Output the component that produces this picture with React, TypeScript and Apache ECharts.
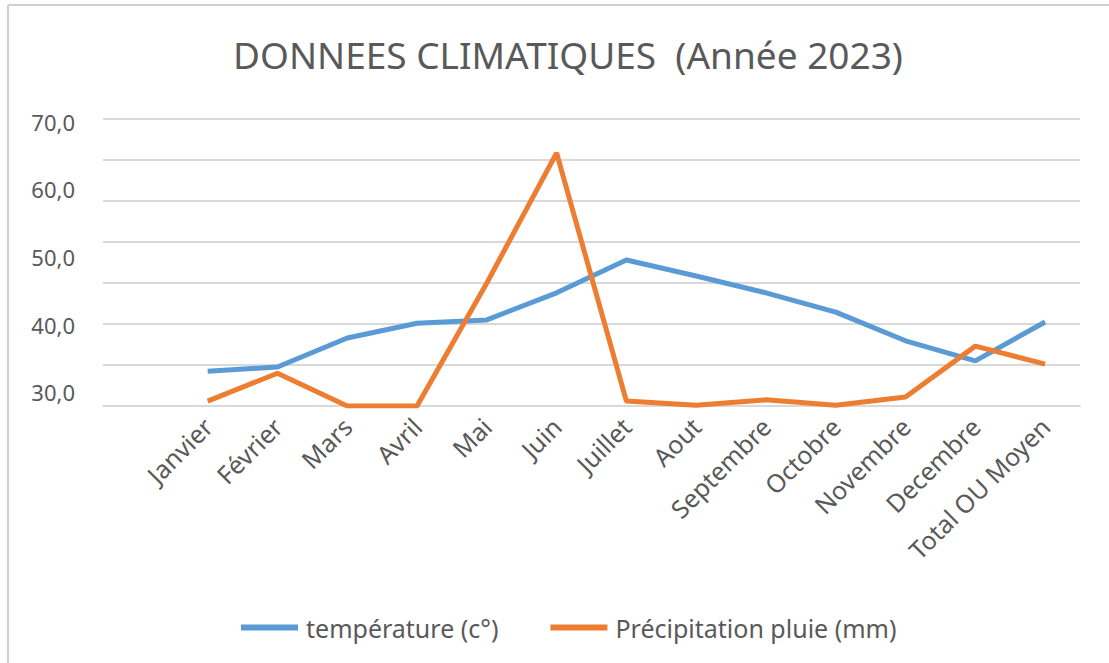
import React, { useEffect, useRef } from "react";
import * as echarts from "echarts";

const categories = ["", "Janvier", "Février", "Mars", "Avril", "Mai", "Juin", "Juillet", "Aout", "Septembre", "Octobre", "Novembre", "Decembre", "Total OU Moyen"];
const temperature = [null, 8.5, 9.5, 16.6, 20.2, 21.0, 27.6, 35.6, 31.7, 27.6, 22.9, 15.9, 11.0, 20.5];
const precipitation = [null, 1.2, 8.0, 0, 0, 30.0, 61.7, 1.2, 0.2, 1.5, 0.2, 2.2, 14.6, 10.2];
const yTickLabels = [30, 40, 50, 60, 70];
const titleText = "DONNEES CLIMATIQUES  (Année 2023)";
const seriesNames = ["température (c°)", "Précipitation pluie (mm)"];

export default function App() {
  const ref = useRef<HTMLDivElement>(null);
  useEffect(() => {
    document.body.style.margin = "0";
    const chart = echarts.init(ref.current!, null, { renderer: "svg" });
    const font = "'Noto Sans', sans-serif";
    chart.setOption({
      animation: false,
      backgroundColor: "#ffffff",
      title: {
        text: titleText,
        left: 228,
        top: 31,
        textStyle: { fontFamily: font, fontSize: 37, fontWeight: "normal", color: "#595959" },
      },
      legend: {
        left: 236,
        top: 610,
        itemWidth: 57,
        itemHeight: 6,
        itemGap: 52,
        icon: "rect",
        textStyle: { fontFamily: font, fontSize: 25, color: "#595959", padding: [0, 0, 0, 3] },
        data: seriesNames,
      },
      grid: { left: 103, right: 29, top: 119, bottom: 257, containLabel: false },
      xAxis: {
        type: "category",
        data: categories,
        boundaryGap: true,
        axisLine: { show: true, lineStyle: { color: "#d9d9d9", width: 2 } },
        axisTick: { show: false },
        axisLabel: { rotate: 45, interval: 0, margin: 16, fontFamily: font, fontSize: 25, color: "#595959" },
      },
      yAxis: [
        {
          type: "value",
          min: 0,
          max: 70,
          interval: 10,
          axisLine: { show: false },
          axisTick: { show: false },
          axisLabel: { show: false },
          splitLine: { lineStyle: { color: "#d9d9d9", width: 2 } },
        },
        {
          type: "value",
          position: "left",
          min: 27.93,
          max: 70.44,
          axisLine: { show: false },
          axisTick: { show: false },
          splitLine: { show: false },
          axisLabel: {
            customValues: yTickLabels,
            margin: 28,
            fontFamily: font,
            fontSize: 22,
            color: "#595959",
            formatter: (v: number) => v.toFixed(1).replace(".", ","),
          },
        },
      ],
      graphic: [
        { type: "line", shape: { x1: 8, y1: 5, x2: 1109, y2: 5 }, style: { stroke: "#d0d0d0", lineWidth: 2 } },
        { type: "line", shape: { x1: 8, y1: 5, x2: 8, y2: 663 }, style: { stroke: "#d0d0d0", lineWidth: 2 } },
      ],
      series: [
        {
          name: seriesNames[0],
          type: "line",
          data: temperature,
          yAxisIndex: 0,
          symbol: "none",
          lineStyle: { color: "#5b9bd5", width: 5 },
          itemStyle: { color: "#5b9bd5" },
        },
        {
          name: seriesNames[1],
          type: "line",
          data: precipitation,
          yAxisIndex: 0,
          symbol: "none",
          lineStyle: { color: "#ed7d31", width: 5 },
          itemStyle: { color: "#ed7d31" },
        },
      ],
    });
    return () => chart.dispose();
  }, []);
  return <div ref={ref} style={{ width: 1109, height: 663, position: "absolute", left: 0, top: 0 }} />;
}
